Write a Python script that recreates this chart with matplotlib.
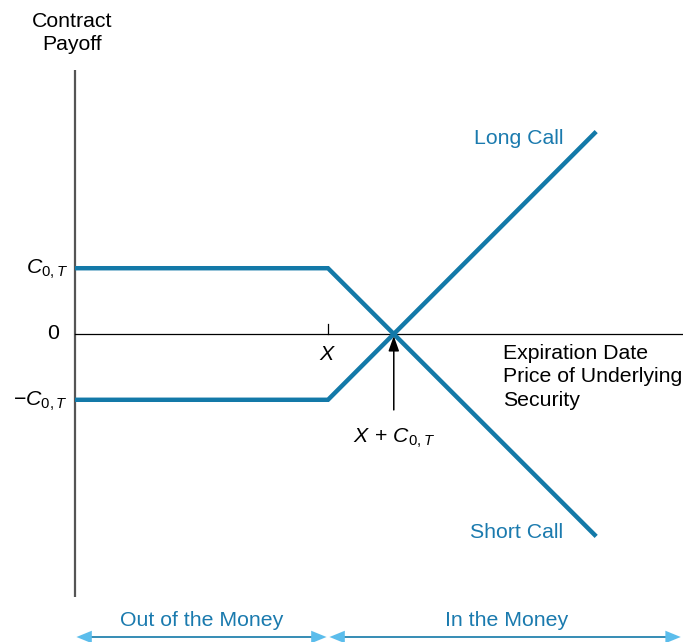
import matplotlib
matplotlib.use("Agg")
import matplotlib.pyplot as plt

plt.rcParams['font.family'] = ['Liberation Sans', 'DejaVu Sans']
plt.rcParams['mathtext.fontset'] = 'custom'
plt.rcParams['mathtext.rm'] = 'Liberation Sans'
plt.rcParams['mathtext.it'] = 'Liberation Sans:italic'
plt.rcParams['mathtext.sf'] = 'Liberation Sans'

# ---- data ----
strike = 100
premium = 26
prices = [0, 100, 206]
long_call = [-26, -26, 80]
short_call = [26, 26, -80]
region_edges = [0, 100, 240]
region_labels = ["Out of the Money", "In the Money"]

LINE = '#1379a8'
TEXT_BLUE = '#1a7aae'
HEAD = '#5bbdec'

fig = plt.figure(figsize=(6.83, 6.42), dpi=100)
ax = fig.add_axes([0, 0, 1, 1])
sx = 2.53
ax.set_xlim(-75 / sx, (683 - 75) / sx)
ax.set_ylim((334 - 642) / sx, 334 / sx)
ax.axis('off')

# axes
ax.plot([0, 0], [(334 - 70) / sx, (334 - 597) / sx], color='#555555', lw=1.6, solid_capstyle='butt')
ax.plot([0, (685 - 75) / sx], [0, 0], color='black', lw=0.9)
# strike tick
ax.plot([strike, strike], [0, 4], color='black', lw=0.9)

ax.plot(prices, long_call, color=LINE, lw=3.2, solid_joinstyle='miter', solid_capstyle='butt')
ax.plot(prices, short_call, color=LINE, lw=3.2, solid_joinstyle='miter', solid_capstyle='butt')

fs = 15.3
ax.text(-2.8, premium - 0.5, r'$C_{0,T}$', ha='right', va='center', fontsize=fs)
ax.text(-6.5, 0, '0', ha='right', va='center', fontsize=fs)
ax.text(-2.8, -premium - 0.5, r'$-C_{0,T}$', ha='right', va='center', fontsize=fs)
ax.text(-1.0, (334 - 33) / sx, 'Contract\nPayoff', ha='center', va='center', fontsize=fs, linespacing=1.3)

ax.text(strike, -8.3, r'$X$', ha='center', va='center', fontsize=fs)
ax.text(strike + premium, -41.3, r'$X\,+\,C_{0,T}$', ha='center', va='center', fontsize=fs)
ax.annotate('', xy=(strike + premium, -0.8), xytext=(strike + premium, -30),
            arrowprops=dict(arrowstyle='-|>,head_length=0.9,head_width=0.32', color='black', lw=1.1,
                            shrinkA=0, shrinkB=0))

ax.text((503 - 75) / sx, (334 - 377) / sx, 'Expiration Date\nPrice of Underlying\nSecurity',
        ha='left', va='center', fontsize=fs, linespacing=1.3)

ax.text((563 - 75) / sx, (334 - 139) / sx, 'Long Call', ha='right', va='center', fontsize=fs, color=TEXT_BLUE)
ax.text((563 - 75) / sx, (334 - 532) / sx, 'Short Call', ha='right', va='center', fontsize=fs, color=TEXT_BLUE)

ya = (334 - 637) / sx
yt = (334 - 620) / sx
for i, lab in enumerate(region_labels):
    a, b = region_edges[i], region_edges[i + 1]
    pad = 0.6
    ax.annotate('', xy=(a + pad, ya), xytext=(b - pad, ya),
                arrowprops=dict(arrowstyle='<|-|>,head_length=1.1,head_width=0.45', color=HEAD, lw=0.01,
                                shrinkA=0, shrinkB=0))
    ax.plot([a + 6, b - 6], [ya, ya], color=LINE, lw=1.2)
    ax.text((a + b) / 2 + (0.5 if i == 1 else 0), yt, lab, ha='center', va='center', fontsize=fs, color=TEXT_BLUE)

fig.savefig('out.png', dpi=100)
